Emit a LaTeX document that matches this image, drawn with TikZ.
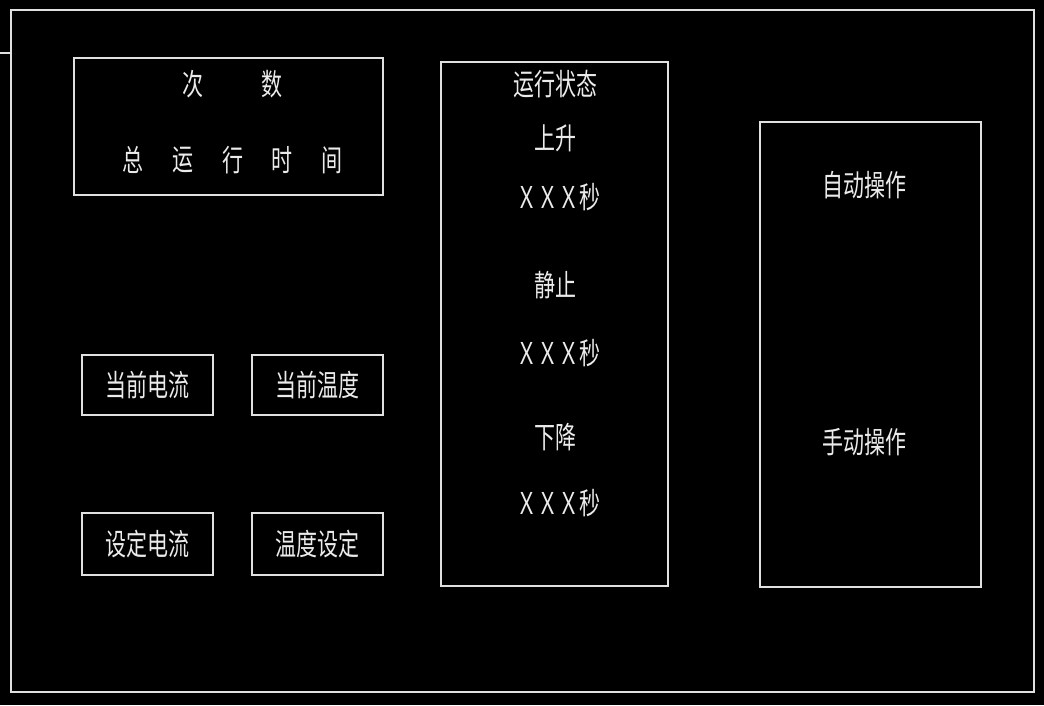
\documentclass[tikz,border=0pt]{standalone}
\usepackage{fontspec}
\newfontfamily\cjk{Noto Sans CJK SC}
\begin{document}
\begin{tikzpicture}[x=1pt,y=-1pt,
  frame/.style={draw=white!88!black,line width=1.3pt},
  lbl/.style={text=white!92!black,font=\cjk\fontsize{30}{30}\selectfont,xscale=0.7,inner sep=0pt,anchor=center}]
\fill[black] (0,0) rectangle (1044,705);
\useasboundingbox (0,0) rectangle (1044,705);
% outer frame
\coordinate (stubL) at (0,53);
\coordinate (stubR) at (11,53);
\draw[frame] (11,10) rectangle (1034,692);
\draw[frame] (stubL) -- (stubR);
% boxes
\node[frame,minimum width=309,minimum height=137,inner sep=0pt] (cnt) at (228.5,126.5) {};
\node[frame,minimum width=227,minimum height=524,inner sep=0pt] (state) at (554.5,324) {};
\node[frame,minimum width=221,minimum height=465,inner sep=0pt] (op) at (870.5,354.5) {};
\node[frame,minimum width=131,minimum height=60,inner sep=0pt] (ci) at (147.5,385) {};
\node[frame,minimum width=131,minimum height=60,inner sep=0pt] (ct) at (317.5,385) {};
\node[frame,minimum width=131,minimum height=62,inner sep=0pt] (si) at (147.5,544) {};
\node[frame,minimum width=131,minimum height=62,inner sep=0pt] (st) at (317.5,544) {};
% texts in count box
\node[lbl] (t1) at (193,84) {次};
\node[lbl] (t2) at (272,84) {数};
\node[lbl] (t3) at (133,160) {总};
\node[lbl] (t4) at (183,160) {运};
\node[lbl] (t5) at (233,160) {行};
\node[lbl] (t6) at (282,160) {时};
\node[lbl] (t7) at (332,160) {间};
% state
\node[lbl] (s0) at (555,84) {运行状态};
\node[lbl] (s1) at (555,138) {上升};
\node[lbl] (s2) at (558,197) {ＸＸＸ秒};
\node[lbl] (s3) at (555,285) {静止};
\node[lbl] (s4) at (558,353) {ＸＸＸ秒};
\node[lbl] (s5) at (555,437) {下降};
\node[lbl] (s6) at (558,503) {ＸＸＸ秒};
% operation
\node[lbl] (o1) at (864,185) {自动操作};
\node[lbl] (o2) at (864,442) {手动操作};
% small boxes
\node[lbl] at (ci.center) {当前电流};
\node[lbl] at (ct.center) {当前温度};
\node[lbl] at (si.center) {设定电流};
\node[lbl] at (st.center) {温度设定};
\end{tikzpicture}
\end{document}
